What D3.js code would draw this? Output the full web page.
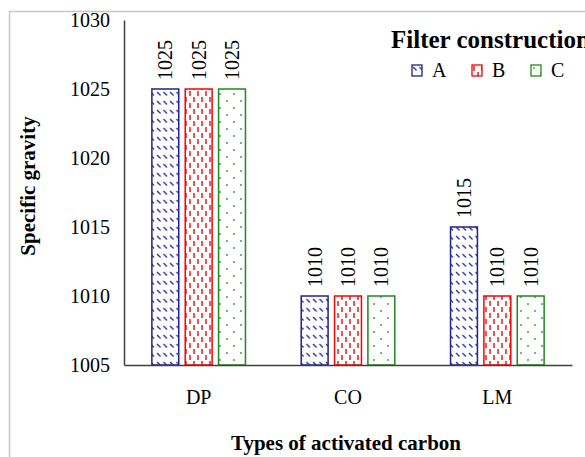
<!DOCTYPE html>
<html>
<head>
<meta charset="utf-8">
<script src="https://cdn.jsdelivr.net/npm/d3@7"></script>
<style>
  body { margin: 0; background: #fff; }
  svg { display: block; font-family: "Liberation Serif", "Times New Roman", serif; }
</style>
</head>
<body>
<script>
const categories = ["DP", "CO", "LM"];
const series = ["A", "B", "C"];
const valuesA = [1025, 1010, 1015];
const valuesB = [1025, 1010, 1010];
const valuesC = [1025, 1010, 1010];
const yTicks = [1005, 1010, 1015, 1020, 1025, 1030];

const width = 585, height = 457;
const margin = { top: 20, right: 13, bottom: 92, left: 124 };

const svg = d3.select("body")
    .append("svg")
    .attr("width", width)
    .attr("height", height);

const defs = svg.append("defs");

// pattern A: short diagonal dashes, navy
const pA = defs.append("pattern")
    .attr("id", "patA")
    .attr("patternUnits", "userSpaceOnUse")
    .attr("width", 6.5)
    .attr("height", 9);
pA.append("line")
    .attr("x1", 1).attr("y1", 2).attr("x2", 4.5).attr("y2", 5.5)
    .attr("stroke", "#30309e").attr("stroke-width", 1.4);

// pattern B: staggered vertical dashes, red
const pB = defs.append("pattern")
    .attr("id", "patB")
    .attr("patternUnits", "userSpaceOnUse")
    .attr("width", 8)
    .attr("height", 12);
pB.append("line")
    .attr("x1", 2).attr("y1", 1).attr("x2", 2).attr("y2", 6)
    .attr("stroke", "#ff2020").attr("stroke-width", 1.6);
pB.append("line")
    .attr("x1", 6).attr("y1", 7).attr("x2", 6).attr("y2", 12)
    .attr("stroke", "#ff2020").attr("stroke-width", 1.6);

// pattern C: staggered dots, green
const pC = defs.append("pattern")
    .attr("id", "patC")
    .attr("patternUnits", "userSpaceOnUse")
    .attr("width", 14)
    .attr("height", 14);
pC.append("circle").attr("cx", 3).attr("cy", 3).attr("r", 0.9).attr("fill", "#2e9a2e");
pC.append("circle").attr("cx", 10).attr("cy", 10).attr("r", 0.9).attr("fill", "#2e9a2e");

const fills = { A: "url(#patA)", B: "url(#patB)", C: "url(#patC)" };
const strokes = { A: "#22228c", B: "#ff0000", C: "#1e8a1e" };
const valuesBySeries = { A: valuesA, B: valuesB, C: valuesC };

// outer chart frame
svg.append("rect")
    .attr("x", 9.5)
    .attr("y", 11.5)
    .attr("width", 700)
    .attr("height", 500)
    .attr("fill", "none")
    .attr("stroke", "#c8c8c8")
    .attr("stroke-width", 1.5);

const x0 = d3.scaleBand()
    .domain(categories)
    .range([margin.left, width - margin.right]);

const x1 = d3.scaleBand()
    .domain(series)
    .range([0, x0.bandwidth()])
    .paddingInner(0.194)
    .paddingOuter(0.836);

const y = d3.scaleLinear()
    .domain([1005, 1030])
    .range([height - margin.bottom, margin.top]);

// y axis
const yAxis = svg.append("g")
    .attr("transform", `translate(${margin.left},0)`)
    .call(d3.axisLeft(y).tickValues(yTicks).tickSize(0).tickPadding(14).tickFormat(d3.format("d")));
yAxis.select(".domain").attr("stroke", "#404040").attr("stroke-width", 1.5);
yAxis.selectAll("text")
    .attr("font-size", 20)
    .attr("fill", "#000")
    .attr("font-family", "Liberation Serif");

// bars
const rows = [];
categories.forEach((c, i) => {
    series.forEach(s => rows.push({ cat: c, ser: s, val: valuesBySeries[s][i] }));
});

const bars = svg.append("g");
bars.selectAll("rect")
    .data(rows)
    .join("rect")
    .attr("x", d => x0(d.cat) + x1(d.ser))
    .attr("y", d => y(d.val))
    .attr("width", x1.bandwidth())
    .attr("height", d => y(1005) - y(d.val))
    .attr("fill", d => fills[d.ser])
    .attr("stroke", d => strokes[d.ser])
    .attr("stroke-width", 1.5);

// value labels
svg.append("g")
    .selectAll("text")
    .data(rows)
    .join("text")
    .attr("transform", d => {
        const cx = x0(d.cat) + x1(d.ser) + x1.bandwidth() / 2 + 7;
        return `translate(${cx},${y(d.val) - 9}) rotate(-90)`;
    })
    .attr("font-size", 20)
    .attr("fill", "#000")
    .text(d => d.val);

// x axis
const xAxis = svg.append("g")
    .attr("transform", `translate(0,${height - margin.bottom})`)
    .call(d3.axisBottom(x0).tickSize(0).tickPadding(25));
xAxis.select(".domain").attr("stroke", "#404040").attr("stroke-width", 1.5);
xAxis.selectAll("text")
    .attr("font-size", 20)
    .attr("fill", "#000")
    .attr("font-family", "Liberation Serif");

// axis titles
svg.append("text")
    .attr("x", 346)
    .attr("y", 450)
    .attr("text-anchor", "middle")
    .attr("font-size", 21)
    .attr("font-weight", "bold")
    .text("Types of activated carbon");

svg.append("text")
    .attr("transform", "translate(35,186) rotate(-90)")
    .attr("text-anchor", "middle")
    .attr("font-size", 21)
    .attr("font-weight", "bold")
    .text("Specific gravity");

// legend
svg.append("text")
    .attr("x", 391)
    .attr("y", 48)
    .attr("font-size", 25)
    .attr("font-weight", "bold")
    .text("Filter construction");

const legendX = [412, 472, 531];
const legend = svg.append("g")
    .selectAll("g")
    .data(series)
    .join("g")
    .attr("transform", (d, i) => `translate(${legendX[i]},65)`);
legend.append("rect")
    .attr("width", 10)
    .attr("height", 11)
    .attr("fill", d => fills[d])
    .attr("stroke", d => strokes[d])
    .attr("stroke-width", 1.3);
legend.append("text")
    .attr("x", 20)
    .attr("y", 12)
    .attr("font-size", 20)
    .text(d => d);
</script>
</body>
</html>
